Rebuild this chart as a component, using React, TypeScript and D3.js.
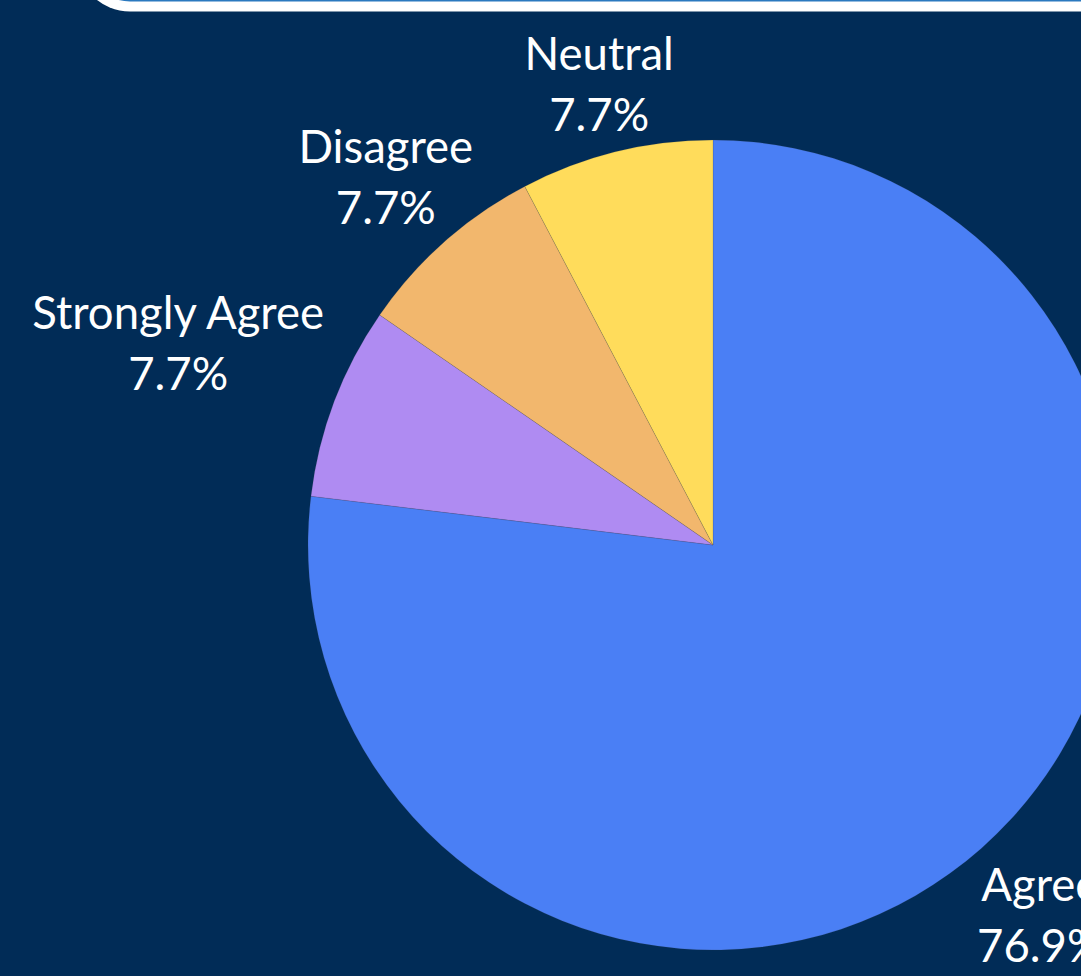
import React, { useEffect, useRef } from "react";
import * as d3 from "d3";

const categories = ["Agree", "Strongly Agree", "Disagree", "Neutral"];
const counts = [10, 1, 1, 1];
const colors = ["#4a7ff5", "#af8bf2", "#f2b76d", "#ffdc5b"];

const W = 1081;
const H = 976;

export default function App() {
  const ref = useRef<SVGSVGElement>(null);

  useEffect(() => {
    const svg = d3.select(ref.current);
    svg.selectAll("*").remove();

    svg.append("rect").attr("width", W).attr("height", H).attr("fill", "#012c57");

    // top framed box (only bottom edge visible)
    svg.append("rect")
      .attr("x", 77).attr("y", -300).attr("width", 1100).attr("height", 311.5)
      .attr("rx", 53).attr("fill", "#ffffff");
    svg.append("rect")
      .attr("x", 87).attr("y", -300).attr("width", 1100).attr("height", 301.5)
      .attr("rx", 43).attr("fill", "#2b79bf");

    const cx = 713, cy = 545, R = 405;
    const total = d3.sum(counts);
    const data = categories.map((c, i) => ({ name: c, value: counts[i], color: colors[i] }));
    const pie = d3.pie<any>().sort(null).value((d: any) => d.value).startAngle(0).endAngle(2 * Math.PI);
    const arcs = pie(data);
    const arc = d3.arc<any>().innerRadius(0).outerRadius(R);

    const g = svg.append("g").attr("transform", `translate(${cx},${cy})`);
    g.selectAll("path.slice")
      .data(arcs)
      .join("path")
      .attr("class", "slice")
      .attr("d", arc as any)
      .attr("fill", (d: any) => d.data.color)
      .attr("stroke", "rgba(60,60,60,0.3)")
      .attr("stroke-width", 0.5);

    const fmt = d3.format(".1%");
    const fontSize = 45.5;
    const gap = 61;
    arcs.forEach((a: any) => {
      const lg = g.append("g");
      const t = lg.append("text")
        .attr("text-anchor", "middle")
        .attr("fill", "#ffffff")
        .style("font-family", "Lato, 'Open Sans', sans-serif")
        .style("font-size", fontSize + "px");
      t.append("tspan").attr("x", 0).attr("y", 0).text(a.data.name);
      t.append("tspan").attr("x", 0).attr("y", gap).text(fmt(a.data.value / total));
      const bb = (t.node() as SVGTextElement).getBBox();
      const bcx = bb.x + bb.width / 2;
      const bcy = bb.y + bb.height / 2;
      const mid = (a.startAngle + a.endAngle) / 2;
      const sx = Math.sin(mid), sy = -Math.cos(mid);
      const tx = Math.abs(sx) > 1e-6 ? bb.width / 2 / Math.abs(sx) : Infinity;
      const ty = Math.abs(sy) > 1e-6 ? bb.height / 2 / Math.abs(sy) : Infinity;
      const dist = R + 11 + Math.min(tx, ty);
      const px = sx * dist, py = sy * dist;
      lg.attr("transform", `translate(${px - bcx},${py - bcy})`);
    });
  }, []);

  return (
    <svg
      ref={ref}
      width={W}
      height={H}
      style={{ position: "absolute", left: 0, top: 0, display: "block" }}
    />
  );
}
